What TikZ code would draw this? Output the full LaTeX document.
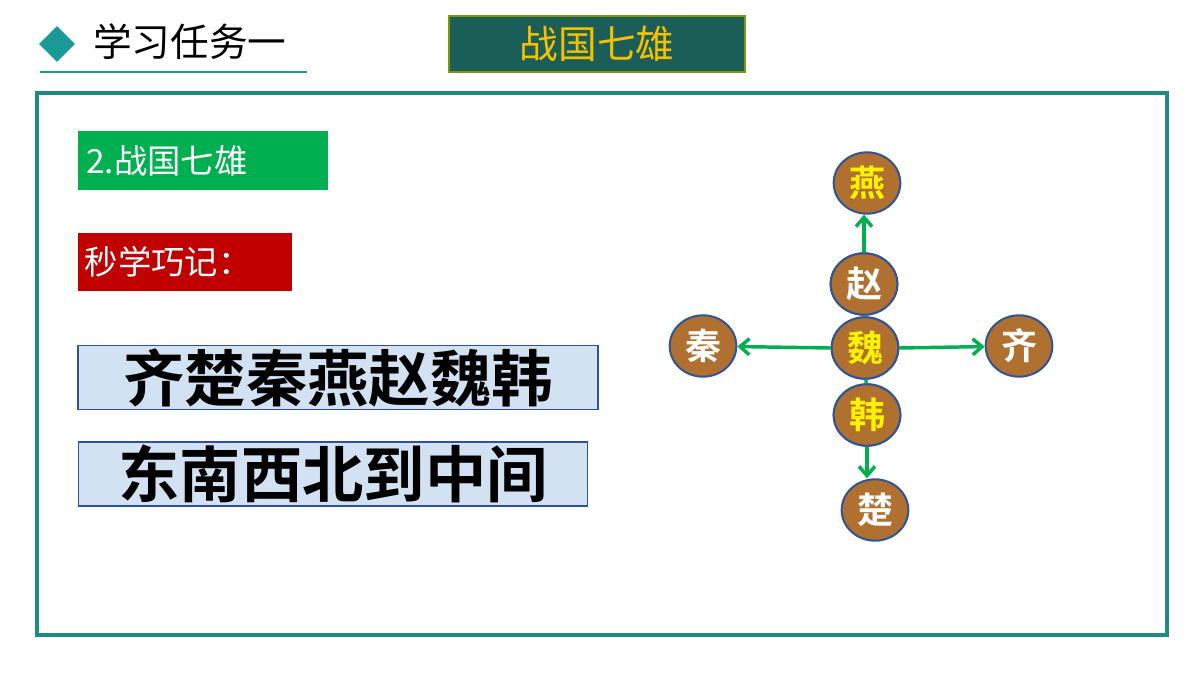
\documentclass[tikz,border=0pt]{standalone}
\usepackage{fontspec}
\setmainfont{Noto Sans CJK SC}
\newfontfamily\cjk{Noto Sans CJK SC}
\newfontfamily\cjkb{Noto Sans CJK SC Bold}
\usetikzlibrary{shapes.geometric,arrows.meta}
\definecolor{teal1}{HTML}{1A9A96}
\definecolor{frame}{HTML}{1F8A80}
\definecolor{tbox}{HTML}{1B5E58}
\definecolor{gold}{HTML}{F5C000}
\definecolor{gbox}{HTML}{00B050}
\definecolor{rbox}{HTML}{C00000}
\definecolor{lblue}{HTML}{D2E2F2}
\definecolor{bblue}{HTML}{2F4F9F}
\definecolor{brown}{HTML}{B07030}
\definecolor{cborder}{HTML}{2F5597}
\begin{document}
\begin{tikzpicture}[x=0.75pt,y=-0.75pt,
  st/.style={ellipse,fill=brown,draw=cborder,line width=1.5pt,minimum width=50pt,minimum height=46pt,inner sep=0pt,font=\cjkb\fontsize{27}{27}\selectfont},
  arr/.style={draw=gbox,line width=2.6pt,-{Straight Barb[length=7pt,width=12pt]}},
  lnk/.style={draw=gbox,line width=2.6pt},
  lbox/.style={fill=lblue,draw=bblue,line width=1pt,font=\cjkb\fontsize{46}{46}\selectfont,text=black,inner sep=0pt}]
\useasboundingbox (0,0) rectangle (1200,675);
\fill[white] (0,0) rectangle (1200,675);
\node[diamond,fill=teal1,minimum size=27pt,inner sep=0pt] (dia) at (57,44) {};
\node[anchor=west,font=\cjk\fontsize{29}{29}\selectfont,inner sep=0pt] (t1) at (93,42) {学习任务一};
\draw[teal1,line width=2.2pt] (40,72) -- (307,72);
\node[fill=tbox,draw=olive!70!green,line width=1.5pt,minimum width=222pt,minimum height=42pt,text=gold,font=\cjk\fontsize{29}{29}\selectfont] (title) at (597,43.5) {战国七雄};
\draw[frame,line width=2.5pt] (37,93) rectangle (1167,635);
\node[fill=gbox,anchor=north west,minimum width=187pt,minimum height=44pt,text=white,font=\cjk\fontsize{25}{25}\selectfont,text width=175pt] (g) at (78,131) {2.战国七雄};
\node[fill=rbox,anchor=north west,minimum width=160pt,minimum height=43pt,text=white,font=\cjk\fontsize{25}{25}\selectfont,text width=150pt] (r) at (78,233) {秒学巧记：};
\node[lbox,minimum width=390pt,minimum height=48pt] (b1) at (338,377.5) {齐楚秦燕赵魏韩};
\node[lbox,minimum width=382pt,minimum height=48pt] (b2) at (333,474) {东南西北到中间};
\node[st,text=yellow] (yan) at (867,183) {燕};
\node[st,text=white] (zhao) at (864,284) {赵};
\node[st,text=yellow] (wei) at (865,348) {魏};
\node[st,text=yellow] (han) at (867,415) {韩};
\node[st,text=white] (chu) at (875,510) {楚};
\node[st,text=white] (qin) at (703,346) {秦};
\node[st,text=white] (qi) at (1019,346) {齐};
\draw[arr] (zhao.north) -- (zhao.north |- yan.south);
\draw[arr] (wei.west) -- (qin);
\draw[arr] (wei.east) -- (qi);
\draw[arr] (han.south) -- (han.south |- chu.north);
\draw[lnk] (zhao) -- (wei);
\draw[lnk] (wei) -- (han);
\node[st,text=white] at (zhao) {赵};
\node[st,text=yellow] at (wei) {魏};
\node[st,text=yellow] at (han) {韩};
\end{tikzpicture}
\end{document}
